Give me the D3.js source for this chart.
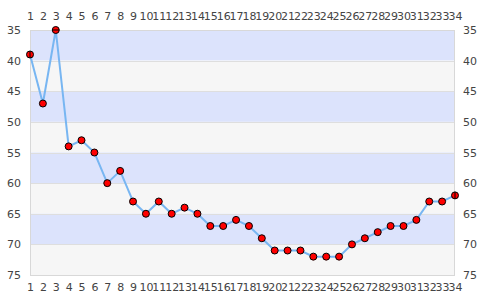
<!DOCTYPE html>
<html><head><meta charset="utf-8">
<script src="https://cdn.jsdelivr.net/npm/d3@7"></script>
<style>body{margin:0;background:#fff}svg{display:block}text{font-family:"DejaVu Sans",sans-serif;font-size:11px;fill:#444}</style>
</head><body><svg id="c" width="485" height="300"></svg>
<script>
const categories = d3.range(1, 35).map(String);
const values = [39,47,35,54,53,55,60,58,63,65,63,65,64,65,67,67,66,67,69,71,71,71,72,72,72,70,69,68,67,67,66,63,63,62];
const yTicks = [35,40,45,50,55,60,65,70,75];

const svg = d3.select("#c");
const L = 30, R = 455, T = 30, B = 275;
const x = d3.scalePoint().domain(categories).range([L, R]);
const y = d3.scaleLinear().domain([35, 75]).range([T, B]);

// bands
const bands = d3.range(0, yTicks.length - 1);
svg.selectAll("rect.band").data(bands).join("rect")
  .attr("x", L).attr("width", R - L)
  .attr("y", i => y(yTicks[i])).attr("height", i => y(yTicks[i+1]) - y(yTicks[i]))
  .attr("fill", i => i % 2 === 0 ? "#dce3fc" : "#f6f6f6");
svg.selectAll("line.grid").data(yTicks.slice(1, -1)).join("line")
  .attr("x1", L).attr("x2", R).attr("y1", d => Math.round(y(d)) + 0.5).attr("y2", d => Math.round(y(d)) + 0.5)
  .attr("stroke", "#dedede");
svg.append("rect").attr("x", L + 0.5).attr("y", T + 0.5).attr("width", R - L - 1).attr("height", B - T)
  .attr("fill", "none").attr("stroke", "#d8d8d8");

// axes
const axL = d3.axisLeft(y).tickValues(yTicks).tickSize(0).tickPadding(9);
const axR = d3.axisRight(y).tickValues(yTicks).tickSize(0).tickPadding(8);
const axT = d3.axisTop(x).tickSize(0).tickPadding(10);
const axB = d3.axisBottom(x).tickSize(0).tickPadding(8);
function style(g){ g.select(".domain").remove(); g.selectAll("text").attr("fill","#444").style("font-size","11px").style("font-family","DejaVu Sans, sans-serif"); }
svg.append("g").attr("transform", `translate(${L},0)`).call(axL).call(style);
svg.append("g").attr("transform", `translate(${R},0)`).call(axR).call(style);
svg.append("g").attr("transform", `translate(0,${T})`).call(axT).call(style);
svg.append("g").attr("transform", `translate(0,${B})`).call(axB).call(style);

// line
const pts = categories.map((c, i) => ({c, v: values[i]}));
svg.append("path").datum(pts)
  .attr("d", d3.line().x(d => x(d.c)).y(d => y(d.v)))
  .attr("fill", "none").attr("stroke", "#78b6f2").attr("stroke-width", 2);

// markers
const r = 3.5;
svg.selectAll("circle.m").data(pts).join("circle")
  .attr("cx", d => x(d.c)).attr("cy", d => y(d.v)).attr("r", r)
  .attr("fill", "#ff0000").attr("stroke", "#000").attr("stroke-width", 1);
// edge chords
const edge = pts.filter((d, i) => i === 0 || i === pts.length - 1);
svg.selectAll("line.ev").data(edge).join("line")
  .attr("x1", d => x(d.c)).attr("x2", d => x(d.c))
  .attr("y1", d => y(d.v) - r).attr("y2", d => y(d.v) + r).attr("stroke", "#000");
const topE = pts.filter(d => d.v === 35);
svg.selectAll("line.eh").data(topE).join("line")
  .attr("x1", d => x(d.c) - r).attr("x2", d => x(d.c) + r)
  .attr("y1", d => y(d.v)).attr("y2", d => y(d.v)).attr("stroke", "#000");
</script></body></html>
